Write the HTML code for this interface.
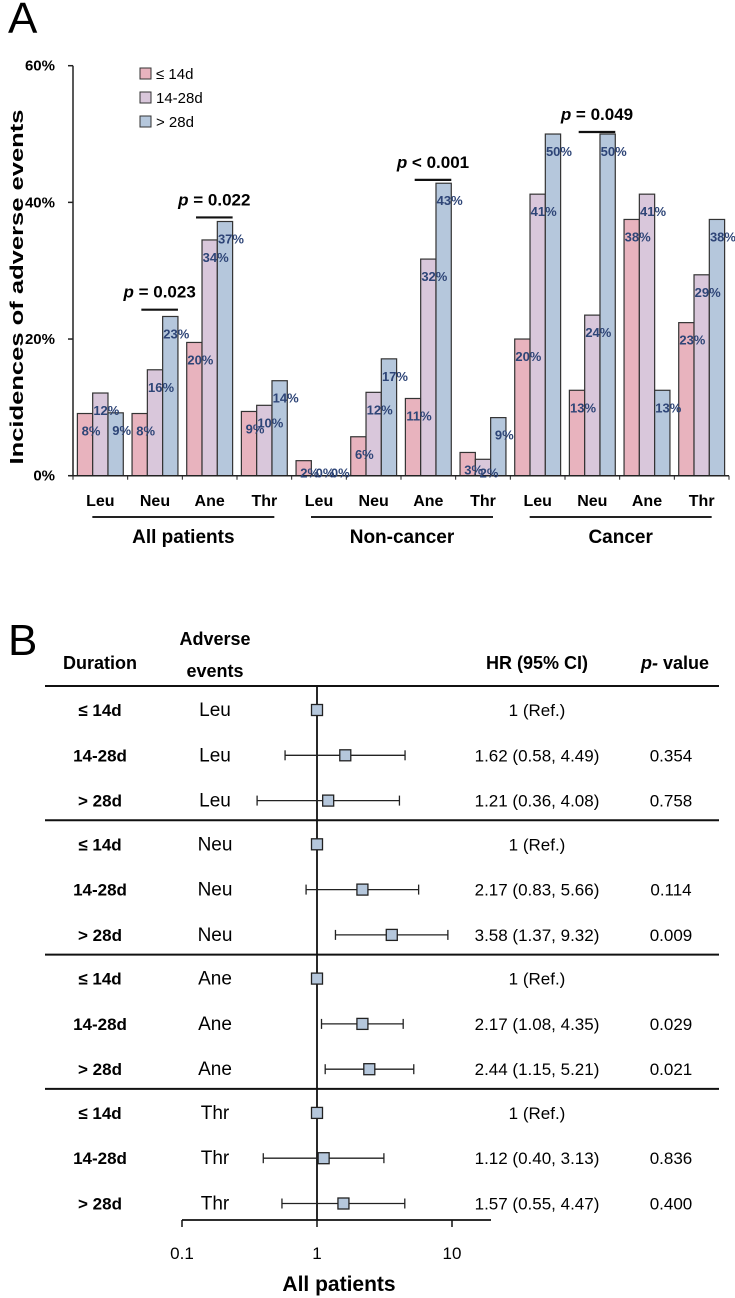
<!DOCTYPE html>
<html><head><meta charset="utf-8"><style>
html,body{margin:0;padding:0;background:#fff;}
svg{display:block;font-family:"Liberation Sans","DejaVu Sans",sans-serif;}
</style></head><body>
<svg id="fig" width="735" height="1298" viewBox="0 0 735 1298">
<text x="8" y="33" font-size="44">A</text>
<text x="8" y="655" font-size="44">B</text>
<g id="barChart"></g>
<g id="forest"></g>
</svg>
<script>
const categories = ["Leu","Neu","Ane","Thr","Leu","Neu","Ane","Thr","Leu","Neu","Ane","Thr"];
const groups = ["All patients","Non-cancer","Cancer"];
const seriesNames = ["≤ 14d","14-28d","> 28d"];
const short14 = [9.1,9.1,19.5,9.4,2.2,5.7,11.3,3.4,20,12.5,37.5,22.4];
const mid1428 = [12.1,15.5,34.5,10.3,0,12.2,31.7,2.4,41.2,23.5,41.2,29.4];
const long28 = [9.2,23.3,37.2,13.9,0,17.1,42.8,8.5,50,50,12.5,37.5];
const labels14 = ["8%","8%","20%","9%","2%","6%","11%","3%","20%","13%","38%","23%"];
const labels1428 = ["12%","16%","34%","10%","0%","12%","32%","2%","41%","24%","41%","29%"];
const labels28 = ["9%","23%","37%","14%","0%","17%","43%","9%","50%","50%","13%","38%"];
const yTicks = [0,20,40,60];
const pCats = [1,2,6,9];
const pTexts = ["= 0.023","= 0.022","< 0.001","= 0.049"];
const pLevels = [24,37.5,43,50];

const durations = ["≤ 14d","14-28d","> 28d","≤  14d","14-28d","> 28d","≤  14d","14-28d","> 28d","≤  14d","14-28d","> 28d"];
const events = ["Leu","Leu","Leu","Neu","Neu","Neu","Ane","Ane","Ane","Thr","Thr","Thr"];
const hr = [1,1.62,1.21,1,2.17,3.58,1,2.17,2.44,1,1.12,1.57];
const lo = [null,0.58,0.36,null,0.83,1.37,null,1.08,1.15,null,0.40,0.55];
const hi = [null,4.49,4.08,null,5.66,9.32,null,4.35,5.21,null,3.13,4.47];
const hrText = ["1 (Ref.)","1.62 (0.58, 4.49)","1.21 (0.36, 4.08)","1 (Ref.)","2.17 (0.83, 5.66)","3.58 (1.37, 9.32)","1 (Ref.)","2.17 (1.08, 4.35)","2.44 (1.15, 5.21)","1 (Ref.)","1.12 (0.40, 3.13)","1.57 (0.55, 4.47)"];
const pVals = ["","0.354","0.758","","0.114","0.009","","0.029","0.021","","0.836","0.400"];
const xTicks = [0.1,1,10];

const NS="http://www.w3.org/2000/svg";
function mk(tag,attrs,parent,txt){const e=document.createElementNS(NS,tag);for(const k in attrs)e.setAttribute(k,attrs[k]);if(txt!==undefined)e.textContent=txt;parent.appendChild(e);return e;}

// ---- bar chart
const bc=document.getElementById('barChart');
const X0=73, X1=729, Y0=475.7, Y60=65.7;
const yS=v=>Y0-(v/60)*(Y0-Y60);
const step=(X1-X0)/categories.length;
const xC=i=>X0+step*(i+0.5);
const bw=15.3;
const colors=["#e8b3be","#d9c7db","#b5c7dc"];
const series=[short14,mid1428,long28];
const labs=[labels14,labels1428,labels28];
let e;
e=mk('line',{x1:X0,y1:Y60,x2:X0,y2:Y0,stroke:'#222','stroke-width':1.5},bc);


yTicks.forEach(t=>{
 e=mk('line',{x1:X0-5,y1:yS(t),x2:X0,y2:yS(t),stroke:'#222','stroke-width':1.5},bc);
 
 
 e=mk('text',{x:X0-18,y:yS(t)+5,'font-size':15,'font-weight':'bold','text-anchor':'end'},bc,t+'%');
 
 
});
e=mk('text',{x:0,y:0,'font-size':18,'font-weight':'bold','text-anchor':'middle',textLength:355,lengthAdjust:'spacingAndGlyphs',transform:'translate(23,287) rotate(-90)'},bc,'Incidences of adverse events');


for(let i=0;i<=categories.length;i++){
 e=mk('line',{x1:X0+step*i,y1:Y0,x2:X0+step*i,y2:Y0+4,stroke:'#222','stroke-width':1},bc);
 
 
}
categories.forEach((c,i)=>{
 for(let k=0;k<3;k++){
  const v=series[k][i];
  const x=xC(i)-1.5*bw+k*bw;
  e=mk('rect',{x:x,y:yS(v),width:bw,height:Y0-yS(v),fill:colors[k],stroke:'#333','stroke-width':1.2},bc);
  
  
 }
 e=mk('text',{x:xC(i),y:506,'font-size':16,'font-weight':'bold','text-anchor':'middle'},bc,c);
 
 
});
e=mk('line',{x1:X0-4,y1:Y0,x2:X1,y2:Y0,stroke:'#222','stroke-width':1.5},bc);


categories.forEach((c,i)=>{
 for(let k=0;k<3;k++){
  const v=series[k][i];
  const x=xC(i)-1.5*bw+k*bw;
  e=mk('text',{x:x+bw/2+6,y:Math.min(yS(v)+22,Y0+2),'font-size':13,'font-weight':'bold',fill:'#2e4577','text-anchor':'middle'},bc,labs[k][i]);
  
  
 }
});
groups.forEach((g,j)=>{
 const a=xC(j*4)-8, b=xC(j*4+3)+10;
 e=mk('line',{x1:a,y1:517,x2:b,y2:517,stroke:'#222','stroke-width':2},bc);
 
 
 e=mk('text',{x:(a+b)/2,y:543,'font-size':19,'font-weight':'bold','text-anchor':'middle'},bc,g);
 
 
});
seriesNames.forEach((s,k)=>{
 e=mk('rect',{x:140,y:68+k*24,width:11,height:11,fill:colors[k],stroke:'#333','stroke-width':1},bc);
 
 
 e=mk('text',{x:156,y:79+k*24,'font-size':15},bc,s);
 
 
});
pCats.forEach((ci,j)=>{
 const a=xC(ci)-bw/2-6, b=xC(ci)+1.5*bw;
 const y=yS(pLevels[j])-2;
 e=mk('line',{x1:a,y1:y,x2:b,y2:y,stroke:'#111','stroke-width':2.2},bc);
 
 
 const t=mk('text',{x:(a+b)/2,y:y-12,'font-size':17,'font-weight':'bold','text-anchor':'middle'},bc);
 
 
 mk('tspan',{'font-style':'italic'},t,'p');
 mk('tspan',{},t,' '+pTexts[j]);
});

// ---- forest plot
const fp=document.getElementById('forest');
const LX1=317, DEC=135;
const xL=v=>LX1+DEC*Math.log10(v);
const rY=i=>{const g=Math.floor(i/3),r=i%3;return 710+g*134.3+r*45.3;};
[["Duration",100,669],["Adverse",215,645],["events",215,677],["HR (95% CI)",537,669]].forEach(h=>{
 e=mk('text',{x:h[1],y:h[2],'font-size':18,'font-weight':'bold','text-anchor':'middle'},fp,h[0]);
 
 
});
const ph=mk('text',{x:675,y:669,'font-size':18,'font-weight':'bold','text-anchor':'middle'},fp);


mk('tspan',{'font-style':'italic'},ph,'p-');
mk('tspan',{},ph,' value');
[0,3,6,9].forEach(i=>{
 const y=rY(i)-24;
 e=mk('line',{x1:45,y1:y,x2:719,y2:y,stroke:'#111','stroke-width':2},fp);
 
 
});
e=mk('line',{x1:LX1,y1:686,x2:LX1,y2:1220,stroke:'#111','stroke-width':1.8},fp);


e=mk('line',{x1:xL(0.1),y1:1220,x2:491,y2:1220,stroke:'#111','stroke-width':1.8},fp);


xTicks.forEach(t=>{
 e=mk('line',{x1:xL(t),y1:1220,x2:xL(t),y2:1227,stroke:'#111','stroke-width':1.5},fp);
 
 
 e=mk('text',{x:xL(t),y:1259,'font-size':17,'text-anchor':'middle'},fp,String(t));
 
 
});
e=mk('text',{x:xL(1)+22,y:1291,'font-size':21,'font-weight':'bold','text-anchor':'middle'},fp,'All patients');


hr.forEach((v,i)=>{
 const y=rY(i);
 e=mk('text',{x:100,y:y+6,'font-size':17,'font-weight':'bold','text-anchor':'middle'},fp,durations[i]);
 
 
 e=mk('text',{x:215,y:y+6,'font-size':19,'text-anchor':'middle'},fp,events[i]);
 
 
 if(lo[i]!==null){
  e=mk('line',{x1:xL(lo[i]),y1:y,x2:xL(hi[i]),y2:y,stroke:'#222','stroke-width':1.3},fp);
  
  
  [lo[i],hi[i]].forEach(c=>{
   e=mk('line',{x1:xL(c),y1:y-5,x2:xL(c),y2:y+5,stroke:'#222','stroke-width':1.3},fp);
   
   
  });
 }
 e=mk('rect',{x:xL(v)-5.5,y:y-5.5,width:11,height:11,fill:'#b5c7dc',stroke:'#222','stroke-width':1.3},fp);
 
 
 e=mk('text',{x:537,y:y+6,'font-size':17,'text-anchor':'middle'},fp,hrText[i]);
 
 
 e=mk('text',{x:671,y:y+6,'font-size':17,'text-anchor':'middle'},fp,pVals[i]);
 
 
});
</script>
</body></html>
